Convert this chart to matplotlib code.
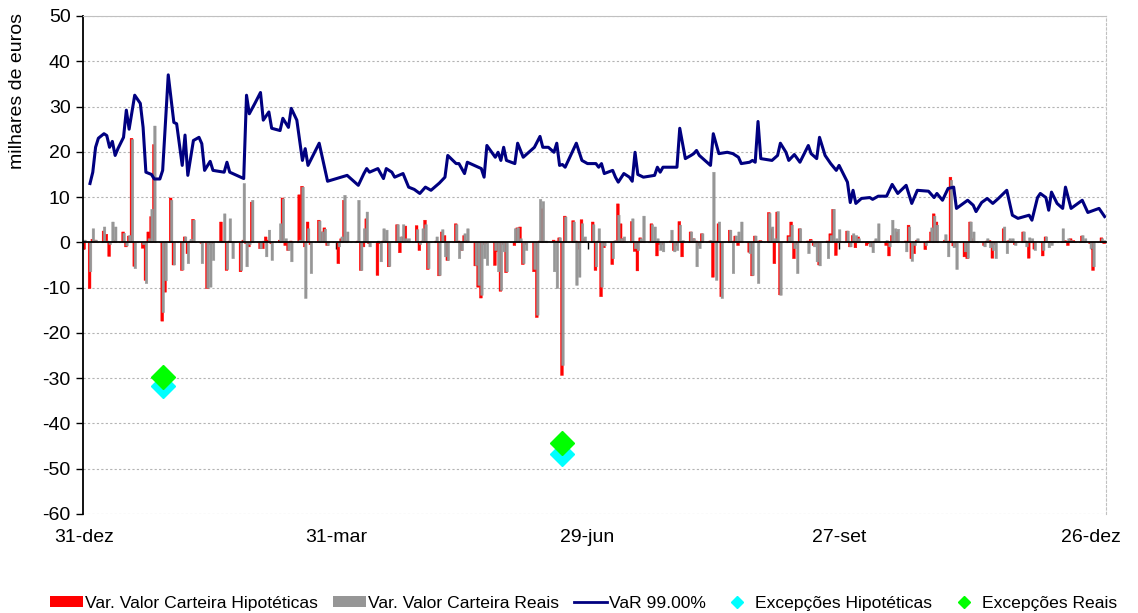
import matplotlib
matplotlib.use("Agg")
import matplotlib.pyplot as plt
from matplotlib.patches import Patch
from matplotlib.lines import Line2D

plt.rcParams['font.family'] = ['Liberation Sans', 'DejaVu Sans']
plt.rcParams['axes.unicode_minus'] = False

# ---------------- data (days counted from 31-dez) ----------------
tick_days = [0, 90, 180, 270, 360]
tick_labels = ["31-dez", "31-mar", "29-jun", "27-set", "26-dez"]

bar_day = [0, 2, 3, 4, 7, 8, 9, 10, 11, 14, 15, 16, 17, 18, 21, 22, 23, 24, 25,
           28, 29, 31, 32, 35, 36, 37, 38, 39, 42, 44, 45, 46, 49, 50, 51, 52, 53,
           56, 57, 58, 59, 60, 63, 64, 65, 66, 67, 70, 71, 72, 73, 74, 77, 78, 79, 80, 81,
           84, 85, 86, 87, 91, 92, 93, 94, 98, 99, 100, 101, 102, 105, 106, 107, 108, 109,
           112, 113, 114, 115, 116, 119, 120, 121, 122, 123, 126, 127, 128, 129, 130,
           133, 134, 135, 136, 137, 140, 141, 142, 143, 144, 147, 148, 149, 150, 151,
           154, 155, 156, 157, 158, 161, 162, 163, 164, 165, 168, 169, 170, 171, 172,
           175, 176, 177, 178, 179, 182, 183, 184, 185, 186, 189, 190, 191, 192, 193,
           196, 197, 198, 199, 200, 203, 204, 205, 206, 207, 210, 211, 212, 213, 214,
           217, 218, 219, 220, 221, 224, 225, 226, 227, 228, 231, 232, 233, 234, 235,
           238, 239, 240, 241, 242, 245, 246, 247, 248, 249, 252, 253, 254, 255, 256,
           259, 260, 261, 262, 263, 266, 267, 268, 269, 270, 273, 274, 275, 276, 277,
           280, 281, 282, 283, 284, 287, 288, 289, 290, 291, 294, 295, 296, 297, 298,
           301, 302, 303, 304, 305, 308, 309, 310, 311, 312, 315, 316, 317, 318, 319,
           322, 323, 324, 325, 326, 329, 330, 331, 332, 333, 336, 337, 338, 339, 340,
           343, 344, 345, 346, 347, 350, 351, 352, 353, 354, 357, 358, 360, 361, 364, 365]

hyp = [-1.5, -10.2, 0.7, 0.5, 2.5, 1.8, -3.1, 0.0, 0.5, 2.3, -1.0, 1.4, 23.0, -5.3, -1.3, -8.4, 2.3, 5.7, 21.6,
       -17.4, -11.0, 9.8, -5.0, -6.2, 1.2, -2.5, 0.3, 5.1, -0.2, -10.2, -0.5, -0.3, 4.5, 0.3, -6.2, 0.3, 0.0,
       -6.5, 0.5, -0.3, -1.0, 8.9, -1.4, -1.4, 1.2, 0.5, -0.3, 0.5, 9.8, -0.7, -1.8, 0.3, 10.5, 12.4, -1.0, 4.5, -0.5,
       4.9, 2.3, 3.2, -0.7, -4.7, 0.8, 9.3, 0.3, 0.3, -6.2, -1.0, 5.2, -0.3, -7.3, -0.3, 0.3, 0.5, -5.4,
       3.9, -2.3, 1.2, 3.6, 0.5, 3.7, -1.8, 0.3, 4.9, -6.0, 0.3, -7.4, 2.3, 1.5, -4.0,
       4.1, 0.3, -1.8, 1.5, 0.5, -5.2, -9.9, -12.3, -0.5, -0.3, -5.1, -2.1, -10.8, -0.5, -6.7,
       -0.7, 3.2, 3.4, -4.9, -0.5, -6.5, -16.6, 0.3, 7.4, 0.0, 0.5, 0.3, 1.0, -29.4, 5.8,
       4.8, 0.3, -1.5, 5.0, 0.8, 4.5, -6.2, 0.3, -12.0, -1.2, -4.9, 0.3, 8.5, 4.1, 0.8,
       4.6, -2.0, -6.3, 1.0, 0.3, 4.1, 0.3, -3.0, -0.5, -0.5, 0.3, -1.8, -0.7, 4.6, -3.2,
       2.3, 0.8, 0.3, -0.7, 1.9, 0.3, -7.7, 0.3, 4.1, -12.0, 2.7, 0.3, 1.4, -0.7, 0.3,
       -2.2, -7.4, 1.4, 0.3, 0.4, 6.6, 3.0, -4.7, 6.7, -11.6, 1.5, 4.5, -3.6, -0.5, 3.0,
       0.3, 0.7, -0.7, -0.3, -5.0, 0.3, 1.9, 7.3, -2.9, 0.3, 2.5, -1.0, 1.5, -1.2, 1.2,
       -0.7, -0.3, -1.0, 0.3, 0.3, -0.7, -3.0, 1.5, 0.3, 2.3, 0.3, 3.8, -3.6, -2.5, 0.5,
       -1.6, 0.3, 2.3, 6.3, 4.5, 0.5, 0.3, 14.4, -0.8, -1.0, -3.2, -3.6, 4.5, 0.8, 0.0,
       -0.7, 0.3, 0.4, -3.5, -0.5, 3.0, 0.3, 0.4, 0.4, -0.5, 2.3, 0.3, -3.5, 0.1, -1.5,
       -3.0, 1.2, 0.1, 0.2, 0.1, 0.2, 0.4, -0.7, 0.8, 0.4, 1.4, 0.3, -0.3, -6.2, 1.0, -0.3]

real = [0.5, -6.5, 3.0, 0.5, 3.4, 0.3, -0.5, 4.5, 3.4, 2.0, -0.8, 1.5, 22.7, -5.8, -0.5, -9.1, 0.8, 7.3, 25.7,
        -15.5, -8.5, 9.3, -5.0, -6.1, 1.2, -4.7, 0.7, 4.9, -4.7, -10.1, -9.9, -4.0, 0.0, 6.3, -6.0, 5.2, -3.6,
        -6.2, 13.0, -5.4, -0.5, 9.3, -1.4, 0.3, -3.2, 2.7, -4.0, 4.1, 9.6, 0.8, -1.8, -4.3, 0.5, 12.2, -12.4, 3.0, -6.9,
        4.7, 2.3, 2.9, -0.7, -1.0, 1.2, 10.4, 2.3, 9.3, -6.2, 3.0, 6.7, -1.0, 0.3, -4.3, 3.0, 2.7, -5.3,
        3.9, 1.2, 3.9, 0.8, 0.8, 2.8, -0.5, 3.0, 3.9, -5.8, 1.2, -7.3, 2.8, -3.2, -4.0,
        3.9, -3.6, -1.8, 1.9, 3.0, -5.1, -9.5, -11.7, -3.6, -5.1, -1.8, -6.5, -10.6, -2.1, -6.5,
        3.0, 3.2, 0.8, -4.7, -1.8, -6.0, -16.1, 9.5, 9.0, 0.3, -6.5, -10.2, 1.0, -27.2, 5.6,
        4.5, -9.5, -7.7, 4.1, 1.2, 3.9, -5.4, 3.0, -9.9, -0.8, -3.6, 0.4, 6.0, 0.8, 1.2,
        5.2, -1.4, -1.8, 0.8, 5.8, 3.9, 3.4, 0.8, -1.8, -2.1, 2.7, -2.1, -1.8, 3.8, 0.4,
        2.3, 0.8, -5.4, -1.4, 1.9, 0.4, 15.5, -8.4, 4.5, -12.4, 2.7, -6.9, 1.4, 2.3, 4.5,
        -2.5, -7.3, 1.4, -9.1, 0.3, 6.4, 3.4, 0.8, 6.8, -11.7, 1.2, 3.8, -1.4, -6.9, 3.0,
        -2.5, 0.4, -1.0, -4.3, -5.2, -3.6, 1.5, 7.3, 0.8, 2.8, 2.5, -1.0, 1.9, 1.5, 0.8,
        0.1, -1.0, -2.3, 0.8, 4.1, 0.4, -1.0, 4.9, 3.0, 2.9, -2.1, 3.4, -4.2, -0.7, 0.8,
        -0.7, 0.2, 3.2, 5.8, 3.8, 1.7, -3.2, 13.7, -1.2, -6.0, -2.1, -3.5, 4.5, 2.3, 0.2,
        -1.0, 0.8, -1.2, -1.8, -3.6, 3.4, -2.5, 0.8, 0.8, -0.7, 2.3, -1.0, 1.0, 0.8, -1.8,
        -1.8, 1.2, -1.2, -0.7, 0.2, 3.0, 0.2, 0.8, 0.4, 0.1, 1.5, 0.8, -1.4, -5.4, 0.8, 0.4]

var_day = [2, 3, 4, 5, 7, 8, 9, 10, 11, 12, 14, 15, 16, 18, 20, 21, 22, 24, 25, 27, 28, 30, 32, 33,
           35, 36, 37, 39, 41, 42, 43, 45, 46, 50, 51, 52, 57, 58, 59, 61, 63, 64, 66, 67, 70, 71,
           73, 74, 76, 78, 79, 80, 84, 87, 94, 98, 100, 101, 102, 105, 107, 108, 110, 111, 114,
           116, 118, 120, 122, 124, 127, 129, 130, 133, 134, 136, 137, 142, 143, 144, 147, 148,
           149, 150, 151, 154, 155, 157, 161, 163, 164, 166, 168, 169, 170, 171, 172, 176, 178,
           180, 183, 184, 185, 186, 189, 190, 191, 193, 195, 196, 197, 198, 200, 204, 205, 206,
           207, 210, 212, 213, 215, 217, 218, 219, 220, 224, 225, 227, 230, 232, 234, 235, 238,
           239, 240, 241, 242, 246, 248, 249, 251, 252, 254, 256, 259, 260, 262, 263, 265, 267,
           269, 270, 273, 274, 275, 276, 278, 281, 282, 284, 287, 289, 291, 294, 296, 298, 302,
           304, 305, 307, 309, 311, 312, 316, 318, 319, 321, 323, 325, 327, 330, 332, 334, 338,
           339, 341, 342, 344, 345, 346, 348, 350, 351, 353, 357, 359, 363, 365]

var_val = [13.0, 15.5, 21.0, 23.0, 24.0, 23.6, 21.0, 22.3, 19.2, 20.7, 23.2, 29.2, 25.0, 32.5, 30.7,
           25.4, 15.5, 15.0, 14.0, 14.0, 15.9, 37.0, 26.5, 26.2, 17.0, 23.7, 14.8, 22.5, 23.2, 21.8,
           15.9, 17.9, 15.9, 15.5, 17.7, 15.5, 14.1, 32.5, 28.4, 30.7, 33.1, 27.0, 28.8, 25.2, 24.7,
           27.4, 25.4, 29.6, 27.0, 18.1, 20.7, 17.0, 21.9, 13.5, 14.8, 12.6, 15.2, 16.3, 15.5, 16.3,
           14.1, 16.3, 15.5, 14.4, 15.2, 12.2, 11.7, 10.8, 12.2, 11.5, 13.1, 14.4, 19.2, 17.4, 17.4,
           15.2, 17.7, 16.3, 14.4, 21.4, 18.8, 19.9, 18.1, 21.0, 18.1, 17.4, 21.9, 18.8, 21.0, 23.4,
           21.0, 21.0, 19.9, 21.9, 17.0, 17.2, 16.6, 21.9, 18.1, 17.4, 17.4, 16.6, 17.4, 15.2, 15.9,
           14.4, 13.3, 15.2, 14.4, 13.5, 19.9, 15.0, 14.4, 14.8, 16.6, 15.5, 16.6, 16.6, 16.6, 25.2,
           18.5, 19.2, 19.6, 20.3, 19.2, 17.0, 24.0, 19.6, 19.9, 19.6, 18.8, 17.4, 17.7, 18.1, 17.7,
           26.7, 18.5, 18.1, 19.2, 21.9, 19.9, 18.1, 19.4, 17.7, 21.4, 19.6, 18.5, 23.2, 19.2, 17.4,
           15.9, 17.0, 13.3, 8.8, 11.5, 8.6, 9.7, 9.9, 9.5, 10.2, 10.2, 12.8, 10.8, 12.6, 8.6, 11.5,
           11.3, 9.9, 10.8, 9.3, 11.9, 12.2, 7.5, 9.3, 8.2, 6.8, 8.8, 9.7, 8.6, 9.7, 11.5, 6.0, 5.3,
           6.0, 4.9, 9.9, 10.8, 9.9, 7.1, 11.1, 8.6, 7.5, 12.2, 7.5, 9.3, 6.6, 7.5, 5.7]

exc_day = [28, 171]
exc_hyp = [-31.7, -46.8]
exc_real = [-29.8, -44.4]

# ---------------- figure ----------------
RED = '#FF0000'
GRAY = '#969696'
NAVY = '#000080'
CYAN = '#00FFFF'
GREEN = '#00FF00'

fig = plt.figure(figsize=(11.38, 6.13), dpi=100)
ax = fig.add_axes([83 / 1138, 99 / 613, 1023 / 1138, 498 / 613])

ax.bar([d - 0.15 for d in bar_day], hyp, width=1.0, color=RED, edgecolor=RED, linewidth=0.3,
       zorder=2, snap=False)
ax.bar([d + 0.22 for d in bar_day], real, width=0.9, color=GRAY, edgecolor=GRAY, linewidth=0.3,
       zorder=2.1, snap=False)
ax.plot(var_day, var_val, color=NAVY, lw=2.2, zorder=3, solid_joinstyle='round')
ax.plot(exc_day, exc_hyp, linestyle='none', marker='D', ms=12, color=CYAN, mec=CYAN, zorder=4)
ax.plot(exc_day, exc_real, linestyle='none', marker='D', ms=12, color=GREEN, mec=GREEN, zorder=4.1)

ax.set_xlim(-0.5, 365.5)
ax.set_ylim(-60, 50)
ax.set_yticks(range(-60, 51, 10))
ax.tick_params(axis='y', direction='out', length=5, width=1, colors='black', labelsize=14, pad=4)
ax.yaxis.grid(True, color='#b4b4b4', linestyle=(0, (2, 2)), linewidth=0.8)
ax.set_axisbelow(True)

# x axis drawn through zero with tick marks
ax.spines['bottom'].set_position(('data', 0))
ax.spines['bottom'].set_color('black')
ax.spines['bottom'].set_linewidth(1.3)
ax.spines['bottom'].set_zorder(3.5)
ax.set_xticks(tick_days)
ax.tick_params(axis='x', direction='out', length=5, width=1, colors='black', labelbottom=False)

ax.spines['left'].set_color('black')
ax.spines['left'].set_linewidth(1.3)
ax.spines['top'].set_color('#c0c0c0')
ax.spines['right'].set_color('#c0c0c0')
ax.spines['right'].set_linestyle((0, (2, 2)))

sec = ax.secondary_xaxis('bottom')
sec.set_xticks(tick_days, labels=tick_labels)
sec.tick_params(length=0, labelsize=14, pad=11)
sec.spines['bottom'].set_visible(False)

ax.set_ylabel("milhares de euros", fontsize=14)
ax.yaxis.set_label_coords(-0.056, 0.85)

handles = [
    Patch(facecolor=RED, edgecolor='none'),
    Patch(facecolor=GRAY, edgecolor='none'),
    Line2D([], [], color=NAVY, lw=2),
    Line2D([], [], linestyle='none', marker='D', ms=6, color=CYAN),
    Line2D([], [], linestyle='none', marker='D', ms=6, color=GREEN),
]
labels = ["Var. Valor Carteira Hipotéticas", "Var. Valor Carteira Reais", "VaR 99.00%",
          "Excepções Hipotéticas", "Excepções Reais"]
fig.legend(handles, labels, loc='center', bbox_to_anchor=(0.513, 0.016), ncol=5, frameon=False,
           fontsize=12.6, handlelength=1.9, handleheight=0.6, handletextpad=0.1, columnspacing=0.85,
           borderaxespad=0)

fig.savefig("out.png", dpi=100)
